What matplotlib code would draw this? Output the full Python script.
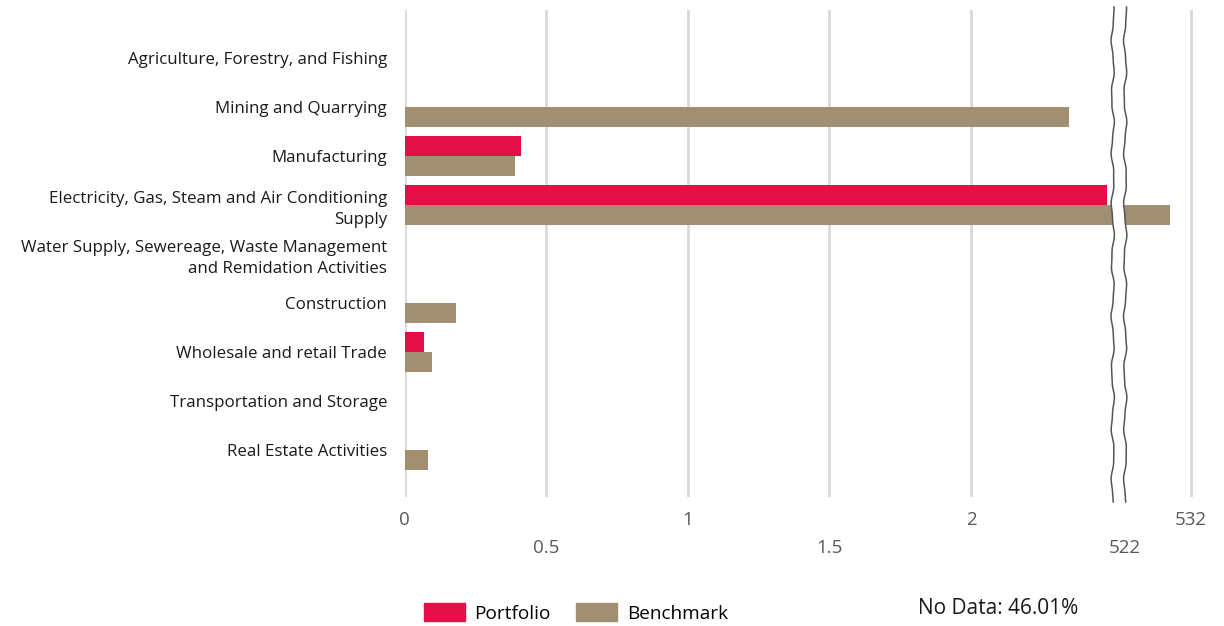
import numpy as np
import matplotlib
matplotlib.use("Agg")
import matplotlib.pyplot as plt
from matplotlib.patches import Patch, Polygon

plt.rcParams['font.family'] = ['Open Sans', 'DejaVu Sans']

# sector exposure, portfolio vs benchmark
sectors = ['Agriculture, Forestry, and Fishing',
           'Mining and Quarrying',
           'Manufacturing',
           'Electricity, Gas, Steam and Air Conditioning\nSupply',
           'Water Supply, Sewereage, Waste Management\nand Remidation Activities',
           'Construction',
           'Wholesale and retail Trade',
           'Transportation and Storage',
           'Real Estate Activities']
portfolio = [0, 0, 0.413, 2.48, 0, 0, 0.068, 0, 0]
benchmark = [0, 2.346, 0.389, 528.8, 0, 0.183, 0.096, 0, 0.082]

ticks_top = [0, 1, 2, 532]
ticks_bottom = [0.5, 1.5, 522]
grid_vals = [0, 0.5, 1, 1.5, 2, 532]
no_data = 46.01

red = '#e31048'
brown = '#a28f72'

# broken x axis: 0..2.5 linear, then a short gap, then 522.. compressed
lo, hi, gap, k = 2.5, 522.0, 0.044, 0.0233
xs = [-1000.0, lo, hi, 10000.0]
us = [-1000.0, lo, lo + gap, lo + gap + (10000.0 - hi) * k]

def fwd(v):
    return np.interp(v, xs, us)

def inv(u):
    return np.interp(u, us, xs)

fig = plt.figure(figsize=(12.24, 6.26), dpi=100)
ax = fig.add_axes([404.5 / 1224, 1 - 497 / 626, (1211 - 404.5) / 1224, 487 / 626])
ax.set_xscale('function', functions=(fwd, inv))

y = np.arange(len(sectors))
h = 0.4
ax.barh(y - h / 2, portfolio, height=h, color=red, zorder=2)
ax.barh(y + h / 2, benchmark, height=h, color=brown, zorder=2)

ax.set_xlim(0, 535)
ax.set_ylim(8.96, -0.98)

for g in grid_vals:
    ax.axvline(g, color='#d9d9d9', lw=2, zorder=1)

ax.set_yticks(y)
ax.set_yticklabels(sectors, fontsize=12.2, color='#1a1a1a', linespacing=1.45)
ax.tick_params(axis='y', length=0, pad=12.5)
for lab in ax.get_yticklabels():
    if '\n' in lab.get_text():
        lab.set_y(lab.get_position()[1] - 0.05)

ax.set_xticks(ticks_top)
ax.set_xticklabels([f'{t:g}' for t in ticks_top])
ax.set_xticks(ticks_bottom, minor=True)
ax.set_xticklabels([f'{t:g}' for t in ticks_bottom], minor=True)
ax.tick_params(axis='x', which='major', length=0, pad=10, labelsize=13.5, labelcolor='#595959')
ax.tick_params(axis='x', which='minor', length=0, pad=30.5, labelsize=13.5, labelcolor='#595959')

for s in ax.spines.values():
    s.set_visible(False)

# axis break marker drawn in figure coordinates
fig.canvas.draw()
to_fig = fig.transFigure.inverted()
x1 = to_fig.transform(ax.transData.transform((lo, 0)))[0]
x2 = to_fig.transform(ax.transData.transform((hi, 0)))[0]
yy = np.linspace(1 - 7 / 626, 1 - 502 / 626, 400)
ypx = (1 - yy) * 626
wob = (1.3 * np.sin(ypx * 2 * np.pi / 55) + 0.4 * np.sin(ypx * 2 * np.pi / 23)) / 1224
left = np.column_stack([x1 + wob, yy])
right = np.column_stack([x2 + wob, yy])
fig.patches.append(Polygon(np.vstack([left, right[::-1]]), closed=True,
                           facecolor='white', edgecolor='none',
                           transform=fig.transFigure, zorder=5))
for line in (left, right):
    fig.add_artist(plt.Line2D(line[:, 0], line[:, 1], color='#555555', lw=1.1,
                              transform=fig.transFigure, zorder=6))

handles = [Patch(color=red, label='Portfolio'), Patch(color=brown, label='Benchmark')]
fig.legend(handles=handles, loc='center left', bbox_to_anchor=(424 / 1224, 13 / 626),
           ncol=2, frameon=False, fontsize=13.7, handlelength=2.15, handleheight=1.0,
           handletextpad=0.5, columnspacing=1.35, borderpad=0, borderaxespad=0)

fig.text(918 / 1224, 17 / 626, f'No Data: {no_data:.2f}%', fontsize=15,
         color='#1a1a1a', ha='left', va='center')

fig.savefig('out.png', dpi=100)
